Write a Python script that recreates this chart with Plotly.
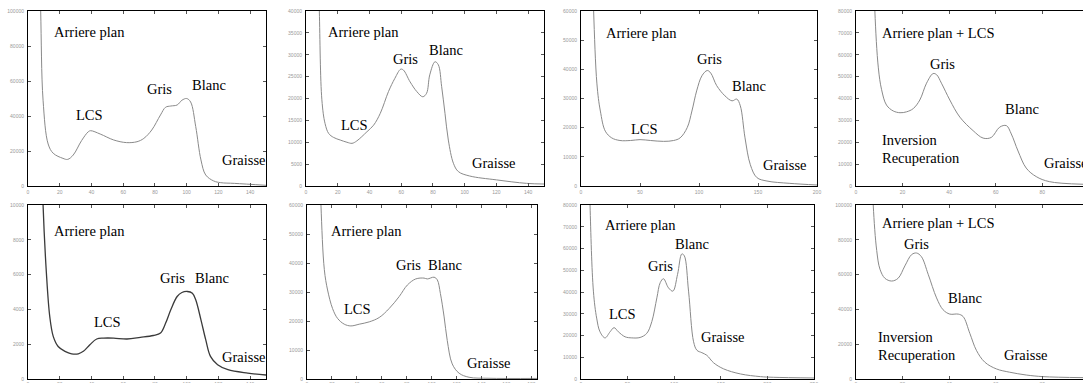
import plotly.graph_objects as go

# histogram curves (x = intensity, y = counts)
p1_x = [7, 8, 9.5, 12.7, 15.9, 22, 25, 28.5, 33.8, 38, 39.5, 45.5, 54, 62, 68.7, 73, 78, 83.5, 86.7, 90, 94, 97, 100, 102.5, 105.7, 109, 112, 117, 121.5, 130, 150]
p1_y = [140000, 100000, 49000, 24000, 18700, 15800, 15200, 17700, 26000, 31000, 31600, 29700, 26300, 24800, 25300, 27200, 32000, 40600, 45000, 45700, 46300, 49000, 50000, 48000, 34000, 14900, 6300, 2900, 1900, 1500, 400]

p2_x = [7.5, 8.4, 10, 12, 14.3, 17.4, 21.6, 25.8, 29, 32, 38.4, 42.6, 46.8, 52, 56, 59.7, 61.4, 65.6, 69.8, 73.6, 76, 78, 81.3, 83.4, 85.5, 87.6, 89.7, 92.9, 96, 103, 120, 139, 150]
p2_y = [55000, 40000, 19700, 14300, 12000, 11100, 10500, 10000, 9750, 10300, 12400, 13900, 16600, 21600, 24600, 26700, 26500, 23800, 21600, 20400, 21200, 25400, 28400, 27700, 22700, 16600, 10500, 5200, 3300, 2300, 1400, 600, 450]

p3_x = [9.5, 10.7, 13.5, 16.4, 20.6, 26, 33, 42, 50, 59, 70, 78.5, 84, 90, 94, 98, 102.5, 107, 110, 115, 122, 128, 132, 135, 139, 143.5, 149, 157.6, 177, 200]
p3_y = [80000, 60000, 35000, 25700, 18800, 16500, 15600, 15600, 15900, 15600, 15300, 15600, 16500, 20000, 25700, 32600, 37800, 39600, 38700, 34400, 30900, 29200, 29800, 27500, 16500, 7300, 2900, 1700, 900, 350]

p4_x = [7.5, 8.1, 9.6, 11, 13.1, 16, 18.9, 21.7, 24.6, 27.4, 30.3, 33.1, 34.6, 36.7, 40.3, 44.6, 50.3, 54.6, 58.1, 61.7, 64.6, 66.7, 69.6, 73.1, 77.4, 83, 97.5]
p4_y = [110000, 80000, 54000, 44000, 37000, 34300, 33500, 33900, 35400, 39300, 47000, 51400, 50900, 47000, 39300, 31500, 25300, 21900, 22200, 26900, 27600, 23800, 16000, 8200, 4300, 2000, 800]

p5_x = [8.5, 9.5, 11.6, 13.7, 15.9, 19, 23.3, 27.5, 31.7, 34.9, 39, 43.3, 47.6, 54, 62.4, 70.8, 79, 83.5, 86.7, 90, 94, 97, 100.4, 103.6, 105.7, 109, 112, 115, 119.5, 126, 138.5, 150]
p5_y = [14000, 10000, 6080, 3600, 2450, 1870, 1590, 1450, 1450, 1590, 1970, 2300, 2350, 2350, 2300, 2390, 2500, 2640, 3200, 3980, 4740, 4970, 5030, 4930, 4550, 3400, 2260, 1300, 820, 535, 340, 230]

p6_x = [10, 11.2, 13.9, 16.5, 20.5, 24.5, 29.9, 35.2, 41.9, 49.9, 57.9, 65.9, 73.9, 80.5, 87.2, 93.9, 96.5, 101.9, 104.5, 107, 110, 112.5, 116.5, 122, 130, 146, 184.5]
p6_y = [80000, 60000, 37700, 30700, 24300, 20900, 18900, 18300, 18900, 19700, 21200, 24300, 28400, 32400, 34500, 34800, 34500, 35100, 34200, 29500, 21400, 13300, 5200, 2000, 600, 250, 200]

p7_x = [8.5, 9.7, 13.3, 16.8, 20.4, 25.8, 31.2, 35.5, 40.1, 47.3, 54.5, 63.4, 70.6, 76, 81.4, 85, 88.5, 93.9, 98.6, 103.6, 108.2, 110.8, 115.4, 120.8, 124.4, 129.7, 135, 142.3, 153, 171, 192.5, 206.8, 250]
p7_y = [110000, 80000, 40400, 28000, 21700, 18900, 21700, 23600, 21700, 19400, 18900, 19100, 21000, 26400, 37300, 44300, 46100, 41900, 40400, 48100, 57500, 56700, 40400, 17100, 13200, 12100, 10900, 7450, 4660, 2330, 1090, 780, 470]

p8_x = [6.5, 7.4, 8.9, 10.3, 12.4, 15.3, 18.1, 21, 23.9, 26, 28.1, 31, 34.6, 37.4, 40.3, 43.9, 46, 48.9, 51.7, 55.3, 60.3, 66, 73.1, 80.3, 97.5]
p8_y = [140000, 100000, 73800, 63100, 57900, 56300, 57900, 65000, 71500, 72400, 70300, 60200, 46600, 39800, 37300, 37300, 35900, 26200, 16500, 9700, 5800, 3900, 2300, 1360, 780]

# axis ranges and tick steps per panel
x_max = [150, 150, 200, 97.5, 150, 184.5, 250, 97.5]
x_step = [20, 20, 50, 20, 20, 20, 50, 20]
y_max = [100000, 40000, 60000, 80000, 10000, 60000, 80000, 100000]
y_step = [20000, 5000, 10000, 10000, 2000, 10000, 10000, 20000]

# labels: (panel, text, x, y)
labels = [
    (1, "Arriere plan", 15.4, 87800), (1, "LCS", 29, 40600), (1, "Gris", 73.6, 55200),
    (1, "Blanc", 102, 57700), (1, "Graisse", 121, 14900),
    (2, "Arriere plan", 12.6, 35100), (2, "LCS", 20.5, 13900), (2, "Gris", 53.5, 29000),
    (2, "Blanc", 76, 31100), (2, "Graisse", 103.4, 5200),
    (3, "Arriere plan", 19.2, 52600), (3, "LCS", 40.4, 19400), (3, "Gris", 96.9, 43400),
    (3, "Blanc", 126.6, 34400), (3, "Graisse", 152.5, 7300),
    (4, "Arriere plan + LCS", 10.3, 70000), (4, "Gris", 31, 55900), (4, "Blanc", 63.1, 35400),
    (4, "Inversion", 10.3, 21000), (4, "Recuperation", 10.3, 12900), (4, "Graisse", 79.9, 10600),
    (5, "Arriere plan", 15.4, 8510), (5, "LCS", 40.2, 3250), (5, "Gris", 81.8, 5790),
    (5, "Blanc", 104.2, 5790), (5, "Graisse", 121.1, 1240),
    (6, "Arriere plan", 17.9, 51200), (6, "LCS", 28, 24100), (6, "Gris", 69.9, 39400),
    (6, "Blanc", 95.2, 39400), (6, "Graisse", 126.7, 5400),
    (7, "Arriere plan", 23.3, 70700), (7, "LCS", 27.6, 29800), (7, "Gris", 69.9, 52000),
    (7, "Blanc", 98.6, 62100), (7, "Graisse", 126.9, 19400),
    (8, "Arriere plan + LCS", 10.3, 89900), (8, "Gris", 19.6, 77700), (8, "Blanc", 38.6, 46600),
    (8, "Inversion", 8.4, 23900), (8, "Recuperation", 8.4, 13600), (8, "Graisse", 62.9, 13600),
]

curves = [(p1_x, p1_y), (p2_x, p2_y), (p3_x, p3_y), (p4_x, p4_y),
          (p5_x, p5_y), (p6_x, p6_y), (p7_x, p7_y), (p8_x, p8_y)]

W, H = 1083, 383
x_px = [(28, 266), (306, 544), (581, 817), (856, 1083),
        (28, 266), (307, 537), (581, 814), (856, 1083)]
y_px = [(11, 186)] * 4 + [(205, 379)] * 4

fig = go.Figure()
layout = {}
for i, (xs, ys) in enumerate(curves):
    n = i + 1
    sfx = "" if n == 1 else str(n)
    dark = (n == 5)
    fig.add_trace(go.Scatter(
        x=xs, y=ys, mode='lines', line_shape='spline',
        line=dict(color='#3a3a3a' if dark else '#8a8a8a', width=1.3 if dark else 1),
        xaxis='x' + sfx, yaxis='y' + sfx, showlegend=False, hoverinfo='skip'
    ))
    open_right = n in (4, 8)
    bottom_row = n > 4
    tickfont = dict(size=5, color='#999', family='Liberation Sans')
    layout['xaxis' + sfx] = dict(
        domain=[x_px[i][0] / W, x_px[i][1] / W], anchor='y' + sfx,
        range=[0, x_max[i]], tick0=0, dtick=x_step[i],
        showgrid=False, zeroline=False, showline=True, linecolor='black', linewidth=1,
        mirror='allticks', ticks='inside', ticklen=3, tickcolor='#555',
        tickfont=tickfont, ticklabelstandoff=0 if bottom_row else 1, automargin=False,
    )
    layout['yaxis' + sfx] = dict(
        domain=[1 - y_px[i][1] / H, 1 - y_px[i][0] / H], anchor='x' + sfx,
        range=[0, y_max[i]], tick0=0, dtick=y_step[i], tickformat='d',
        showgrid=False, zeroline=False, showline=True, linecolor='black', linewidth=1,
        mirror=False if open_right else 'allticks', ticks='inside', ticklen=3, tickcolor='#555',
        tickfont=tickfont, ticklabelstandoff=2, automargin=False,
    )

annotations = []
for n, text, ax, ay in labels:
    sfx = "" if n == 1 else str(n)
    annotations.append(dict(
        x=ax, y=ay, xref='x' + sfx, yref='y' + sfx, text=text, showarrow=False,
        xanchor='left', yanchor='middle',
        font=dict(family='Liberation Serif', size=14.5, color='black')
    ))

fig.update_layout(
    **layout,
    annotations=annotations,
    width=W, height=H, autosize=False,
    margin=dict(l=0, r=0, t=0, b=0),
    paper_bgcolor='white', plot_bgcolor='white',
)

# page body has a default 8px margin; drop it so the figure sits at the window corner
fig.write_html("out.html", config={'displayModeBar': False},
               post_script="document.body.style.margin='0';")
